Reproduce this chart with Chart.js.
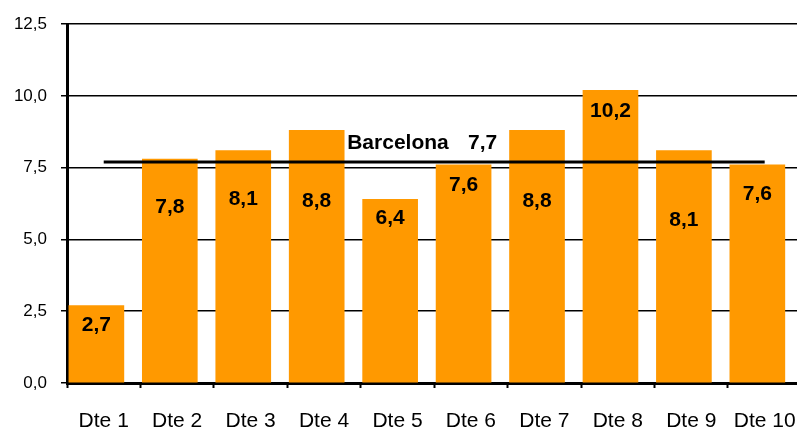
<!DOCTYPE html>
<html>
<head>
<meta charset="utf-8">
<script src="https://cdn.jsdelivr.net/npm/chart.js@4/dist/chart.umd.min.js"></script>
<style>
  html, body { margin: 0; padding: 0; background: #ffffff; }
  #wrap { width: 797px; height: 429px; }
</style>
</head>
<body>
<div id="wrap"><canvas id="c" width="797" height="429"></canvas></div>
<script>
// ---- data ----
const CATEGORIES = ["Dte 1", "Dte 2", "Dte 3", "Dte 4", "Dte 5", "Dte 6", "Dte 7", "Dte 8", "Dte 9", "Dte 10"];
const VALUES = [2.7, 7.8, 8.1, 8.8, 6.4, 7.6, 8.8, 10.2, 8.1, 7.6];
const REFERENCE_NAME = "Barcelona";
const REFERENCE_VALUE = 7.7;
const Y_TICKS = [0, 2.5, 5, 7.5, 10, 12.5];

// ---- style / layout ----
const BAR_COLOR = "#FF9900";
const BAR_SHIFT = 0.4;            // bar centre within its category slot (Excel-like left-aligned bars)
const LABEL_DY = [20, 48, 49, 71, 19, 20, 71, 21, 70, 29]; // label centre below bar top (px)
const fmt = v => v.toFixed(1).replace('.', ',');

const barData = VALUES.map((v, i) => ({ x: i + BAR_SHIFT, y: v }));
const refData = [{ x: 0.5, y: REFERENCE_VALUE }, { x: CATEGORIES.length - 0.5, y: REFERENCE_VALUE }];

const labelsPlugin = {
  id: 'labels',
  afterDatasetsDraw(chart) {
    const ctx = chart.ctx;
    const meta = chart.getDatasetMeta(0);
    ctx.save();
    ctx.fillStyle = '#000';
    ctx.font = 'bold 21px "Liberation Sans", Arial, sans-serif';
    ctx.textAlign = 'center';
    ctx.textBaseline = 'middle';
    meta.data.forEach((bar, i) => {
      ctx.fillText(fmt(VALUES[i]), bar.x, bar.y + LABEL_DY[i]);
    });
    // reference label
    const lm = chart.getDatasetMeta(1);
    const p0 = lm.data[0], p1 = lm.data[1];
    const cx = (p0.x + p1.x) / 2;
    ctx.textBaseline = 'alphabetic';
    ctx.textAlign = 'left';
    ctx.fillText(REFERENCE_NAME, cx - 87, p0.y - 13);
    ctx.textAlign = 'right';
    ctx.fillText(fmt(REFERENCE_VALUE), cx + 63, p0.y - 13);
    ctx.restore();
  }
};

const noPad = s => { s.paddingLeft = 0; s.paddingRight = 0; };

new Chart(document.getElementById('c'), {
  type: 'bar',
  data: {
    datasets: [
      {
        type: 'bar',
        data: barData,
        backgroundColor: BAR_COLOR,
        borderWidth: 0,
        barThickness: 55,
        xAxisID: 'x',
        order: 2
      },
      {
        type: 'line',
        label: REFERENCE_NAME,
        data: refData,
        borderColor: '#000',
        borderWidth: 3,
        pointRadius: 0,
        fill: false,
        xAxisID: 'x',
        order: 1
      }
    ]
  },
  options: {
    responsive: false,
    animation: false,
    devicePixelRatio: 1,
    layout: { padding: { top: 21, right: 0, left: 0, bottom: 0 } },
    plugins: { legend: { display: false }, tooltip: { enabled: false } },
    scales: {
      x: {
        type: 'linear',
        position: 'bottom',
        offset: false,
        min: 0,
        max: 9.94,
        afterBuildTicks: s => { s.ticks = CATEGORIES.map((c, i) => ({ value: i })); },
        ticks: { display: false },
        grid: { offset: false, drawOnChartArea: false, drawTicks: true, tickLength: 5, tickWidth: 2, tickColor: '#000', color: '#000' },
        border: { display: true, color: '#000', width: 3 },
        afterFit: s => { s.height = 8; noPad(s); }
      },
      x2: {
        type: 'linear',
        position: 'bottom',
        offset: false,
        min: 0,
        max: 9.94,
        afterBuildTicks: s => { s.ticks = CATEGORIES.map((c, i) => ({ value: i + 0.5 })); },
        ticks: {
          autoSkip: false,
          maxRotation: 0,
          padding: 18,
          color: '#000',
          font: { family: '"Liberation Sans", Arial, sans-serif', size: 21 },
          callback: (v, i) => CATEGORIES[i]
        },
        grid: { offset: false, display: false, drawTicks: false },
        border: { display: false },
        afterFit: s => { s.height = 38; noPad(s); }
      },
      y: {
        min: 0,
        max: 12.5,
        afterBuildTicks: s => { s.ticks = Y_TICKS.map(v => ({ value: v })); },
        ticks: {
          padding: 14,
          color: '#000',
          font: { family: '"Liberation Sans", Arial, sans-serif', size: 17 },
          callback: v => fmt(v)
        },
        grid: { color: '#000', lineWidth: 1.5, tickLength: 6, drawTicks: true },
        border: { display: true, color: '#000', width: 3 },
        afterFit: s => { s.width = 67; }
      }
    }
  },
  plugins: [labelsPlugin]
});
</script>
</body>
</html>
